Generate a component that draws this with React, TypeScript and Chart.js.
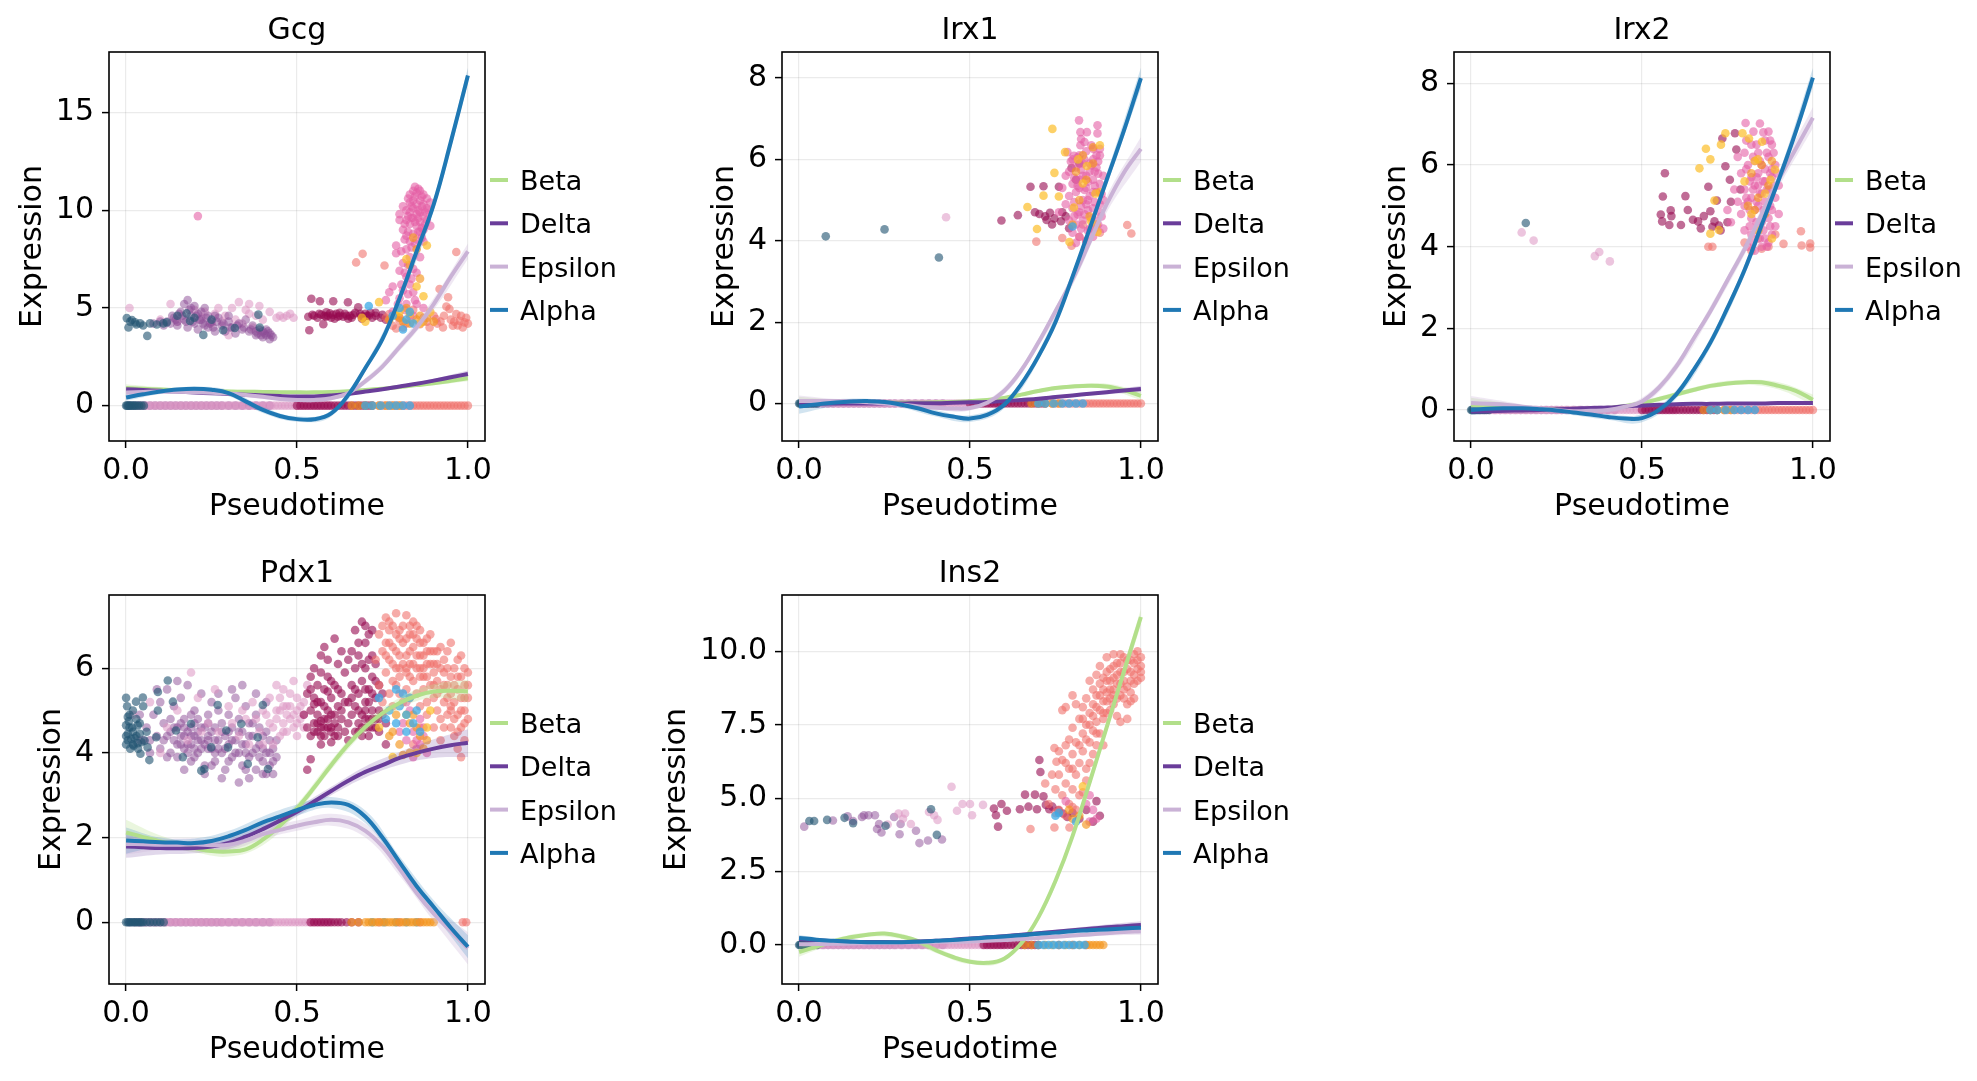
import React, { useEffect, useRef } from 'react'
import { Chart, registerables } from 'chart.js'

Chart.register(...registerables)

const FONT = '"DejaVu Sans", sans-serif'

// lineages shown as fitted trends
const lineages = ['Beta', 'Delta', 'Epsilon', 'Alpha']
const lineageColors = ['#b2df8a', '#6a3d9a', '#cab2d6', '#1f78b4']
const bandFills = ['rgba(178,223,138,0.28)', 'rgba(106,61,154,0.2)', 'rgba(202,178,214,0.3)', 'rgba(31,120,180,0.2)']

// cluster colours of the cells
const cellColors: Record<string, string> = {
  teal: 'rgba(35,85,115,0.62)',
  purple: 'rgba(140,75,150,0.5)',
  light: 'rgba(220,150,195,0.55)',
  crimson: 'rgba(150,10,80,0.6)',
  salmon: 'rgba(240,110,105,0.58)',
  pink: 'rgba(228,95,165,0.6)',
  orange: 'rgba(245,150,30,0.65)',
  yellow: 'rgba(252,190,40,0.7)',
  blue: 'rgba(60,170,230,0.75)',
}

const curveX = [0, 0.05, 0.1, 0.15, 0.2, 0.25, 0.3, 0.35, 0.4, 0.45, 0.5, 0.55, 0.6, 0.65, 0.7, 0.75, 0.8, 0.85, 0.9, 0.95, 1]
const bandX = [0, 0.1, 0.2, 0.3, 0.4, 0.5, 0.6, 0.7, 0.8, 0.9, 1]
const xTicks = [0, 0.5, 1]

// ---------- Gcg ----------
const gcgBeta = [0.9, 0.86, 0.82, 0.79, 0.76, 0.74, 0.72, 0.71, 0.7, 0.69, 0.68, 0.68, 0.7, 0.74, 0.8, 0.87, 0.95, 1.05, 1.15, 1.27, 1.4]
const gcgDelta = [0.84, 0.8, 0.76, 0.72, 0.67, 0.63, 0.6, 0.56, 0.52, 0.49, 0.47, 0.47, 0.52, 0.6, 0.72, 0.84, 0.98, 1.12, 1.28, 1.45, 1.62]
const gcgEpsilon = [0.67, 0.7, 0.72, 0.71, 0.69, 0.66, 0.62, 0.55, 0.46, 0.34, 0.29, 0.29, 0.38, 0.64, 1.25, 2.0, 3.0, 4.0, 5.2, 6.6, 7.9]
const gcgAlpha = [0.42, 0.58, 0.72, 0.82, 0.86, 0.81, 0.64, 0.22, -0.22, -0.53, -0.69, -0.7, -0.4, 0.55, 1.93, 3.4, 5.5, 7.9, 10.3, 13.5, 16.9]
const gcgLo = [
  [0.7, 0.7, 0.65, 0.62, 0.6, 0.6, 0.62, 0.72, 0.88, 1.05, 1.25],
  [0.7, 0.68, 0.6, 0.53, 0.45, 0.4, 0.45, 0.64, 0.9, 1.18, 1.45],
  [0.5, 0.6, 0.6, 0.5, 0.35, 0.2, 0.28, 1.1, 2.8, 4.9, 7.5],
  [0.25, 0.6, 0.75, 0.48, -0.38, -0.82, -0.55, 1.75, 5.3, 10.0, 16.5],
]
const gcgHi = [
  [1.1, 0.95, 0.87, 0.82, 0.8, 0.76, 0.78, 0.88, 1.02, 1.25, 1.55],
  [0.98, 0.84, 0.74, 0.67, 0.59, 0.54, 0.59, 0.8, 1.06, 1.38, 1.8],
  [0.85, 0.84, 0.78, 0.74, 0.57, 0.38, 0.48, 1.4, 3.2, 5.5, 8.3],
  [0.6, 0.84, 0.97, 0.8, -0.06, -0.56, -0.25, 2.1, 5.7, 10.6, 17.3],
]
const gcgTeal = [[0.002, 4.48], [0.007, 4.0], [0.012, 4.3], [0.017, 4.38], [0.026, 4.26], [0.03, 4.15], [0.041, 4.21], [0.05, 4.1], [0.062, 3.57], [0.07, 4.21], [0.09, 4.15], [0.109, 4.21], [0.119, 4.26], [0.15, 4.6], [0.177, 4.72], [0.187, 4.34], [0.2, 4.5], [0.226, 3.62], [0.25, 4.4], [0.284, 3.86], [0.318, 3.97], [0.387, 4.66], [0.391, 4.0]]
const gcgPurple = [[0.08, 4.2], [0.1, 4.3], [0.11, 4.1], [0.12, 4.3], [0.13, 4.2], [0.135, 4.6], [0.14, 4.5], [0.145, 4.4], [0.15, 4.1], [0.15, 4.3], [0.155, 4.7], [0.16, 4.8], [0.165, 4.6], [0.17, 5.2], [0.17, 4.4], [0.175, 4.3], [0.18, 4.0], [0.18, 5.4], [0.185, 4.9], [0.19, 4.6], [0.19, 5.0], [0.195, 4.3], [0.2, 4.2], [0.2, 5.1], [0.205, 4.6], [0.21, 4.7], [0.21, 3.9], [0.215, 4.4], [0.22, 4.4], [0.22, 4.8], [0.225, 4.2], [0.23, 5.0], [0.23, 4.1], [0.235, 4.5], [0.24, 4.6], [0.24, 4.0], [0.245, 4.2], [0.25, 4.3], [0.255, 4.0], [0.26, 3.8], [0.26, 4.6], [0.265, 4.3], [0.27, 4.5], [0.28, 4.1], [0.285, 4.2], [0.29, 3.8], [0.3, 4.3], [0.3, 4.6], [0.305, 4.0], [0.31, 4.0], [0.32, 3.7], [0.325, 4.1], [0.33, 4.2], [0.34, 3.9], [0.345, 4.0], [0.35, 4.4], [0.36, 3.8], [0.365, 3.9], [0.37, 4.1], [0.38, 3.6], [0.38, 3.8], [0.385, 3.7], [0.39, 3.9], [0.395, 3.6], [0.4, 3.5], [0.4, 3.8], [0.405, 3.7], [0.41, 3.6], [0.41, 3.9], [0.415, 3.8], [0.42, 3.4], [0.42, 3.7], [0.425, 3.6], [0.43, 3.5]]
const gcgLight = [[0.01, 5.0], [0.1, 4.4], [0.13, 5.2], [0.15, 4.3], [0.2, 4.9], [0.22, 4.5], [0.23, 4.8], [0.25, 4.2], [0.27, 5.0], [0.28, 4.3], [0.29, 4.6], [0.3, 3.6], [0.31, 5.0], [0.32, 4.4], [0.33, 5.3], [0.34, 4.2], [0.36, 5.2], [0.36, 4.7], [0.37, 4.0], [0.38, 4.6], [0.4, 4.4], [0.42, 4.8], [0.44, 4.5], [0.45, 4.6], [0.46, 4.5], [0.47, 4.6], [0.48, 4.7], [0.49, 4.5], [0.39, 5.1], [0.35, 4.9], [0.26, 4.7]]
const gcgCrimson = [[0.533, 4.55], [0.536, 3.86], [0.542, 5.47], [0.545, 4.65], [0.55, 4.6], [0.56, 4.5], [0.565, 4.7], [0.567, 5.34], [0.571, 4.66], [0.577, 4.17], [0.58, 4.6], [0.585, 4.55], [0.586, 4.78], [0.59, 4.6], [0.596, 4.72], [0.6, 4.5], [0.605, 4.65], [0.606, 5.34], [0.61, 4.45], [0.615, 4.7], [0.62, 4.55], [0.625, 4.75], [0.625, 4.6], [0.635, 4.55], [0.64, 4.7], [0.645, 4.6], [0.649, 5.29], [0.65, 4.45], [0.655, 4.6], [0.66, 4.5], [0.665, 4.65], [0.67, 4.75], [0.679, 5.03], [0.685, 4.7], [0.688, 4.6], [0.69, 4.45], [0.695, 4.55], [0.7, 4.7], [0.705, 4.6], [0.71, 4.6], [0.715, 4.75], [0.72, 4.5], [0.73, 4.6], [0.73, 4.75], [0.745, 4.5], [0.75, 4.65], [0.76, 4.4]]
const gcgSalmon = [[0.673, 7.33], [0.692, 7.77], [0.756, 7.17], [0.966, 7.86], [0.917, 5.97], [0.942, 5.55], [0.76, 4.5], [0.77, 4.69], [0.78, 4.09], [0.79, 3.95], [0.8, 4.34], [0.81, 4.0], [0.82, 4.2], [0.83, 4.6], [0.84, 4.9], [0.86, 4.17], [0.87, 4.5], [0.88, 4.3], [0.888, 4.0], [0.9, 4.6], [0.907, 4.43], [0.91, 4.2], [0.92, 4.3], [0.927, 4.0], [0.93, 4.6], [0.937, 5.07], [0.946, 4.95], [0.95, 4.4], [0.956, 4.09], [0.96, 4.3], [0.966, 4.69], [0.97, 4.1], [0.976, 4.34], [0.98, 4.6], [0.985, 4.0], [0.99, 4.26], [0.995, 4.5], [1.0, 4.2]]
const gcgPink = [[0.21, 9.7], [0.83, 10.8], [0.84, 11.0], [0.845, 11.2], [0.85, 10.9], [0.855, 11.1], [0.86, 11.0], [0.865, 10.7], [0.87, 10.8], [0.88, 10.6], [0.825, 10.6], [0.83, 10.4], [0.835, 10.2], [0.84, 10.5], [0.845, 10.7], [0.85, 10.3], [0.855, 10.0], [0.86, 10.5], [0.865, 10.2], [0.87, 10.3], [0.875, 9.9], [0.88, 10.1], [0.885, 10.0], [0.82, 10.0], [0.83, 9.9], [0.84, 10.1], [0.85, 9.8], [0.86, 9.9], [0.87, 9.7], [0.88, 9.5], [0.825, 9.7], [0.835, 9.6], [0.845, 9.4], [0.855, 9.6], [0.865, 9.1], [0.875, 9.3], [0.82, 9.5], [0.83, 9.3], [0.84, 9.6], [0.85, 9.2], [0.86, 9.4], [0.87, 9.0], [0.815, 9.3], [0.825, 8.9], [0.81, 9.0], [0.82, 8.7], [0.84, 8.8], [0.845, 8.3], [0.85, 8.5], [0.855, 8.9], [0.86, 8.9], [0.865, 8.6], [0.87, 8.4], [0.835, 8.1], [0.815, 8.5], [0.8, 9.8], [0.81, 10.2], [0.89, 9.2], [0.89, 10.4], [0.82, 8.0], [0.805, 7.9], [0.83, 7.6], [0.81, 7.3], [0.825, 7.2], [0.84, 7.0], [0.815, 6.8], [0.82, 6.6], [0.835, 6.5], [0.8, 6.9], [0.79, 7.8], [0.83, 6.2], [0.805, 6.2], [0.81, 5.9], [0.825, 5.7], [0.8, 5.5], [0.84, 5.8], [0.845, 5.4], [0.78, 6.1], [0.77, 5.8], [0.82, 5.2], [0.795, 5.2], [0.815, 4.9], [0.85, 6.8], [0.86, 7.6], [0.79, 8.2], [0.8, 9.5], [0.83, 8.4], [0.85, 5.2], [0.87, 5.0], [0.76, 5.4], [0.78, 4.8], [0.8, 4.5], [0.84, 4.6]]
const gcgOrange = [[0.84, 8.6], [0.85, 8.0], [0.83, 7.2], [0.86, 6.5], [0.82, 5.0], [0.8, 4.5], [0.81, 4.3], [0.83, 4.2], [0.85, 4.4], [0.86, 4.6], [0.87, 4.3], [0.88, 4.5], [0.79, 4.6], [0.9, 4.3], [0.77, 4.4]]
const gcgYellow = [[0.69, 4.5], [0.7, 4.3], [0.74, 5.3], [0.82, 7.5], [0.85, 6.1], [0.87, 5.6], [0.88, 8.2], [0.83, 4.7], [0.86, 4.2], [0.89, 4.8], [0.8, 4.8]]
const gcgBlue = [[0.71, 5.1], [0.81, 3.9], [0.82, 4.4], [0.83, 4.8], [0.8, 5.0], [0.78, 4.6], [0.84, 4.2]]

// zero-expression cells, shared segments
const zeroTealEarly = [0, 0.003, 0.006, 0.01, 0.014, 0.018, 0.022, 0.027, 0.032, 0.038, 0.045, 0.052]
const zeroPurpleEarly = [0.01, 0.025, 0.04, 0.055, 0.07, 0.085, 0.1, 0.115, 0.13, 0.145, 0.16, 0.175, 0.19, 0.205, 0.22, 0.235, 0.25, 0.265, 0.28, 0.3, 0.32, 0.34, 0.36, 0.38, 0.4, 0.42]
const zeroLightEarly = [0.035, 0.045, 0.055, 0.065, 0.075, 0.085, 0.095, 0.105, 0.115, 0.125, 0.135, 0.145, 0.155, 0.165, 0.175, 0.185, 0.195, 0.205, 0.215, 0.225, 0.235, 0.245, 0.255, 0.265, 0.275, 0.285, 0.295, 0.305, 0.315, 0.325, 0.335, 0.345, 0.355, 0.365, 0.375, 0.385, 0.395, 0.405, 0.415, 0.425, 0.435, 0.445, 0.455, 0.465, 0.475, 0.485, 0.495, 0.505, 0.515, 0.525, 0.535, 0.545, 0.555, 0.565, 0.575, 0.585, 0.595]
const zeroCrimsonMid = [0.5, 0.51, 0.52, 0.53, 0.54, 0.55, 0.56, 0.57, 0.58, 0.59, 0.6, 0.61, 0.62, 0.63, 0.64, 0.65, 0.66, 0.67, 0.68, 0.69, 0.7, 0.71, 0.72]
const zeroOrangeMid = [0.66, 0.68, 0.7, 0.72, 0.74, 0.76, 0.78, 0.8]
const zeroBlueMid = [0.7, 0.72, 0.745, 0.77, 0.79, 0.81, 0.83]
const zeroSalmonLate = [0.74, 0.75, 0.76, 0.77, 0.78, 0.79, 0.8, 0.81, 0.82, 0.83, 0.84, 0.85, 0.86, 0.87, 0.88, 0.89, 0.9, 0.91, 0.92, 0.93, 0.94, 0.95, 0.96, 0.97, 0.98, 0.99, 1.0]

// ---------- Irx1 ----------
const irx1Beta = [0.06, 0.05, 0.04, 0.03, 0.02, 0.02, 0.02, 0.02, 0.03, 0.04, 0.06, 0.09, 0.14, 0.22, 0.31, 0.38, 0.42, 0.44, 0.42, 0.33, 0.19]
const irx1Delta = [0, 0, 0, 0, 0, 0, 0, 0.01, 0.01, 0.02, 0.03, 0.04, 0.06, 0.09, 0.12, 0.16, 0.2, 0.24, 0.28, 0.32, 0.36]
const irx1Epsilon = [0.06, 0.06, 0.06, 0.05, 0.03, 0.0, -0.03, -0.07, -0.1, -0.12, -0.11, 0.02, 0.31, 0.82, 1.5, 2.27, 3.05, 3.97, 4.9, 5.67, 6.26]
const irx1Alpha = [-0.07, -0.02, 0.02, 0.05, 0.06, 0.04, -0.03, -0.12, -0.24, -0.32, -0.37, -0.28, -0.03, 0.48, 1.16, 2.0, 3.12, 4.3, 5.5, 6.7, 8.0]
const irx1Lo = [
  [-0.05, -0.02, -0.01, -0.02, -0.01, 0.01, 0.1, 0.26, 0.37, 0.35, 0.08],
  [-0.05, -0.02, -0.02, -0.01, -0.01, 0.0, 0.03, 0.09, 0.16, 0.23, 0.28],
  [-0.1, 0.0, 0.0, -0.08, -0.15, -0.17, 0.22, 1.4, 2.9, 4.7, 5.95],
  [-0.25, -0.07, 0.0, -0.1, -0.32, -0.45, -0.12, 1.05, 3.0, 5.35, 7.75],
]
const irx1Hi = [
  [0.17, 0.1, 0.06, 0.06, 0.07, 0.11, 0.18, 0.36, 0.47, 0.49, 0.3],
  [0.05, 0.02, 0.02, 0.03, 0.03, 0.06, 0.09, 0.15, 0.24, 0.33, 0.44],
  [0.2, 0.12, 0.08, 0.02, -0.05, -0.05, 0.4, 1.6, 3.2, 5.1, 6.55],
  [0.1, 0.11, 0.12, 0.04, -0.16, -0.29, 0.06, 1.27, 3.24, 5.65, 8.25],
]
const irx1Teal = [[0.078, 4.11], [0.25, 4.28], [0.409, 3.59]]
const irx1Light = [[0.43, 4.58]]
const irx1Crimson = [[0.592, 4.5], [0.64, 4.63], [0.677, 5.33], [0.69, 4.7], [0.703, 4.66], [0.715, 5.34], [0.72, 4.6], [0.724, 4.51], [0.734, 4.69], [0.74, 4.4], [0.747, 4.55], [0.76, 5.33], [0.766, 4.48], [0.77, 4.7], [0.78, 4.6], [0.79, 4.31], [0.797, 5.79], [0.81, 5.5], [0.82, 5.9]]
const irx1Salmon = [[0.694, 3.98], [0.77, 4.07], [0.797, 3.88], [0.82, 4.1], [0.83, 4.4], [0.84, 4.0], [0.86, 4.3], [0.88, 4.2], [0.96, 4.39], [0.972, 4.18]]
const irx1Pink = [[0.819, 6.96], [0.823, 6.67], [0.842, 6.67], [0.873, 6.84], [0.873, 6.64], [0.835, 6.43], [0.823, 6.35], [0.825, 6.5], [0.861, 6.26], [0.855, 6.35], [0.88, 6.26], [0.785, 6.18], [0.804, 6.09], [0.8, 6.0], [0.795, 5.95], [0.815, 6.05], [0.82, 6.1], [0.835, 6.0], [0.84, 6.2], [0.86, 6.0], [0.875, 5.95], [0.88, 6.1], [0.79, 5.7], [0.81, 5.8], [0.825, 5.75], [0.83, 5.9], [0.85, 5.7], [0.855, 5.85], [0.865, 5.7], [0.87, 5.8], [0.89, 5.6], [0.8, 5.4], [0.805, 5.55], [0.815, 5.35], [0.82, 5.5], [0.835, 5.25], [0.84, 5.3], [0.845, 5.45], [0.86, 5.5], [0.865, 5.35], [0.875, 5.65], [0.88, 5.4], [0.885, 5.15], [0.79, 5.1], [0.81, 5.2], [0.83, 5.0], [0.845, 5.0], [0.85, 5.1], [0.87, 5.2], [0.89, 5.0], [0.8, 4.8], [0.805, 4.95], [0.82, 4.7], [0.825, 4.85], [0.84, 4.9], [0.845, 4.75], [0.86, 4.8], [0.865, 4.95], [0.88, 4.7], [0.885, 4.6], [0.79, 4.5], [0.805, 4.6], [0.81, 4.4], [0.815, 4.65], [0.83, 4.5], [0.835, 4.65], [0.85, 4.3], [0.855, 4.55], [0.87, 4.5], [0.875, 4.4], [0.89, 4.3], [0.82, 4.1], [0.825, 4.3], [0.84, 4.0], [0.845, 4.25], [0.86, 4.1], [0.865, 4.3], [0.81, 3.95], [0.83, 5.6], [0.85, 5.9], [0.87, 6.1], [0.84, 5.6], [0.86, 5.2], [0.88, 4.9], [0.82, 5.3], [0.78, 4.9], [0.77, 5.3], [0.76, 4.7], [0.8, 4.2], [0.78, 5.6]]
const irx1Orange = [[0.82, 5.0], [0.84, 5.5], [0.85, 4.6], [0.86, 5.9], [0.87, 4.4], [0.83, 6.1], [0.88, 5.2], [0.8, 4.4], [0.81, 5.7], [0.86, 6.3]]
const irx1Yellow = [[0.741, 6.75], [0.668, 4.83], [0.696, 4.29], [0.715, 5.11], [0.747, 5.67], [0.76, 5.09], [0.778, 6.18], [0.791, 3.97], [0.804, 4.82], [0.816, 6.0], [0.83, 5.41], [0.842, 5.84], [0.854, 4.48], [0.867, 5.16], [0.873, 4.22], [0.88, 6.35]]
const irx1Blue = [[0.8, 4.35]]
const irx1ZeroOrange = [0.68, 0.7, 0.72, 0.74, 0.76]

// ---------- Irx2 ----------
const irx2Beta = [0.13, 0.09, 0.06, 0.04, 0.02, 0.02, 0.02, 0.03, 0.04, 0.09, 0.17, 0.27, 0.38, 0.49, 0.59, 0.65, 0.68, 0.68, 0.59, 0.47, 0.25]
const irx2Delta = [-0.04, -0.03, -0.02, -0.01, 0.0, 0.02, 0.03, 0.05, 0.06, 0.09, 0.11, 0.13, 0.14, 0.15, 0.15, 0.16, 0.16, 0.16, 0.17, 0.17, 0.17]
const irx2Epsilon = [0.17, 0.15, 0.13, 0.08, 0.04, 0.0, -0.03, -0.02, 0.0, 0.08, 0.21, 0.55, 1.06, 1.74, 2.42, 3.18, 3.94, 4.79, 5.64, 6.4, 7.16]
const irx2Alpha = [0.0, 0.03, 0.04, 0.04, 0.02, -0.01, -0.06, -0.11, -0.17, -0.21, -0.2, 0.0, 0.38, 0.97, 1.65, 2.5, 3.43, 4.53, 5.64, 6.82, 8.14]
const irx2Lo = [
  [-0.05, 0.0, -0.02, -0.02, -0.01, 0.11, 0.32, 0.53, 0.62, 0.5, 0.12],
  [-0.1, -0.06, -0.04, -0.01, 0.03, 0.08, 0.11, 0.12, 0.13, 0.13, 0.12],
  [0.0, 0.05, 0.0, -0.1, -0.07, 0.12, 0.95, 2.3, 3.8, 5.45, 6.9],
  [-0.12, -0.03, -0.04, -0.13, -0.24, -0.3, 0.28, 1.53, 3.3, 5.5, 7.9],
]
const irx2Hi = [
  [0.3, 0.18, 0.08, 0.08, 0.1, 0.23, 0.44, 0.65, 0.74, 0.68, 0.38],
  [0.02, 0.04, 0.04, 0.07, 0.09, 0.14, 0.17, 0.18, 0.19, 0.21, 0.22],
  [0.34, 0.21, 0.08, 0.04, 0.07, 0.3, 1.17, 2.54, 4.08, 5.83, 7.42],
  [0.12, 0.11, 0.08, 0.01, -0.1, -0.1, 0.48, 1.77, 3.56, 5.78, 8.38],
]
const irx2Teal = [[0.16, 4.58]]
const irx2Light = [[0.148, 4.35], [0.183, 4.15], [0.362, 3.77], [0.375, 3.87], [0.406, 3.64]]
const irx2Crimson = [[0.567, 5.8], [0.561, 5.23], [0.555, 4.79], [0.559, 4.62], [0.584, 4.89], [0.586, 4.75], [0.58, 4.53], [0.614, 4.53], [0.627, 5.24], [0.634, 4.9], [0.649, 4.66], [0.664, 4.62], [0.672, 4.45], [0.681, 4.75], [0.694, 5.47], [0.7, 4.87], [0.706, 4.49], [0.712, 4.62], [0.719, 5.13], [0.725, 4.52], [0.73, 4.4], [0.735, 6.65], [0.744, 5.97], [0.75, 4.6], [0.757, 5.64], [0.76, 5.1], [0.772, 6.78], [0.776, 6.38], [0.788, 5.4]]
const irx2Salmon = [[0.694, 4.0], [0.706, 4.0], [0.8, 4.1], [0.82, 3.9], [0.84, 4.2], [0.85, 3.95], [0.87, 4.0], [0.89, 4.3], [0.914, 4.07], [0.965, 4.38], [0.967, 4.03], [0.992, 4.08], [0.992, 3.98]]
const irx2Pink = [[0.803, 7.03], [0.845, 7.02], [0.826, 6.82], [0.87, 6.82], [0.855, 6.8], [0.86, 6.6], [0.875, 6.6], [0.88, 6.5], [0.805, 6.6], [0.82, 6.5], [0.835, 6.5], [0.84, 6.3], [0.865, 6.3], [0.885, 6.3], [0.8, 6.3], [0.78, 6.2], [0.825, 6.2], [0.81, 6.0], [0.83, 6.1], [0.845, 6.1], [0.85, 6.0], [0.87, 6.2], [0.89, 6.0], [0.805, 5.9], [0.79, 5.8], [0.82, 5.7], [0.84, 5.8], [0.875, 5.8], [0.895, 5.8], [0.815, 5.6], [0.835, 5.7], [0.855, 5.6], [0.86, 5.6], [0.88, 5.7], [0.8, 5.4], [0.825, 5.4], [0.83, 5.5], [0.845, 5.3], [0.85, 5.3], [0.865, 5.4], [0.87, 5.4], [0.885, 5.5], [0.89, 5.2], [0.805, 5.2], [0.78, 5.1], [0.81, 5.1], [0.835, 5.1], [0.84, 5.0], [0.86, 5.1], [0.875, 5.0], [0.88, 4.9], [0.815, 4.9], [0.855, 4.9], [0.79, 4.8], [0.82, 4.7], [0.83, 4.9], [0.85, 4.6], [0.87, 4.7], [0.89, 4.5], [0.815, 4.5], [0.835, 4.6], [0.855, 4.4], [0.875, 4.5], [0.8, 4.4], [0.82, 4.3], [0.84, 4.4], [0.86, 4.2], [0.88, 4.3], [0.825, 4.1], [0.845, 4.2], [0.865, 4.0], [0.81, 4.0], [0.83, 3.9], [0.85, 4.0], [0.87, 4.1], [0.76, 4.6], [0.77, 5.4], [0.75, 4.9], [0.84, 5.5], [0.86, 5.9], [0.82, 5.2], [0.88, 5.9], [0.8, 5.0], [0.9, 5.5], [0.9, 4.8]]
const irx2Orange = [[0.82, 5.8], [0.84, 5.2], [0.86, 4.8], [0.85, 6.0], [0.87, 5.5], [0.83, 4.9], [0.88, 6.1], [0.81, 5.0]]
const irx2Yellow = [[0.668, 5.92], [0.687, 6.4], [0.7, 6.14], [0.731, 6.5], [0.744, 6.78], [0.7, 4.32], [0.712, 5.13], [0.725, 4.41], [0.794, 6.78], [0.813, 6.65], [0.851, 6.57], [0.839, 6.14], [0.876, 5.64], [0.889, 5.89], [0.82, 4.8], [0.86, 5.3], [0.8, 5.6], [0.84, 4.4], [0.88, 4.2], [0.83, 6.1]]

// ---------- Pdx1 ----------
const pdx1Beta = [2.12, 2.01, 1.91, 1.83, 1.75, 1.68, 1.67, 1.72, 1.95, 2.28, 2.69, 3.18, 3.71, 4.2, 4.61, 4.94, 5.18, 5.35, 5.45, 5.47, 5.45]
const pdx1Delta = [1.79, 1.77, 1.75, 1.75, 1.75, 1.79, 1.87, 2.02, 2.2, 2.4, 2.61, 2.85, 3.1, 3.34, 3.55, 3.71, 3.88, 4.0, 4.1, 4.18, 4.24]
const pdx1Epsilon = [1.85, 1.84, 1.83, 1.83, 1.84, 1.82, 1.83, 1.93, 2.08, 2.18, 2.28, 2.36, 2.42, 2.36, 2.16, 1.79, 1.26, 0.69, 0.2, -0.21, -0.62]
const pdx1Alpha = [1.93, 1.91, 1.89, 1.88, 1.87, 1.92, 2.03, 2.18, 2.36, 2.5, 2.65, 2.77, 2.83, 2.77, 2.49, 2.0, 1.42, 0.85, 0.36, -0.13, -0.58]
const pdx1Lo = [
  [1.85, 1.8, 1.65, 1.55, 1.82, 2.58, 3.6, 4.5, 5.05, 5.3, 5.2],
  [1.52, 1.6, 1.63, 1.73, 2.08, 2.5, 3.0, 3.42, 3.72, 3.88, 3.9],
  [1.6, 1.7, 1.7, 1.7, 1.96, 2.16, 2.28, 2.0, 1.1, 0.02, -1.0],
  [1.62, 1.78, 1.76, 1.9, 2.22, 2.52, 2.7, 2.34, 1.28, 0.2, -0.85],
]
const pdx1Hi = [
  [2.42, 2.05, 1.86, 1.8, 2.08, 2.8, 3.82, 4.72, 5.3, 5.62, 5.72],
  [2.06, 1.92, 1.87, 2.01, 2.32, 2.72, 3.2, 3.68, 4.02, 4.32, 4.56],
  [2.1, 1.98, 1.98, 1.96, 2.2, 2.4, 2.56, 2.32, 1.42, 0.38, -0.24],
  [2.24, 2.0, 1.98, 2.16, 2.5, 2.78, 2.96, 2.64, 1.56, 0.52, -0.31],
]
const pdx1Teal = [[0.0, 5.3], [0.003, 5.1], [0.005, 4.85], [0.0, 4.65], [0.0, 4.4], [0.005, 4.3], [0.008, 4.75], [0.01, 4.6], [0.01, 4.9], [0.012, 4.1], [0.005, 4.45], [0.0, 4.2], [0.02, 5.0], [0.02, 4.2], [0.02, 4.5], [0.015, 4.33], [0.018, 4.6], [0.022, 4.17], [0.025, 4.35], [0.03, 4.4], [0.03, 4.8], [0.034, 4.23], [0.034, 4.65], [0.035, 4.1], [0.04, 4.7], [0.04, 4.45], [0.045, 4.25], [0.029, 5.21], [0.042, 3.98], [0.049, 5.31], [0.05, 5.1], [0.054, 4.29], [0.06, 4.5], [0.063, 4.13], [0.068, 3.83], [0.088, 4.37], [0.093, 5.44], [0.093, 5.0], [0.122, 5.71], [0.137, 5.21], [0.146, 4.53], [0.166, 3.9], [0.19, 4.69], [0.22, 3.58], [0.229, 3.62], [0.249, 4.13], [0.268, 5.13], [0.293, 4.53], [0.298, 4.13], [0.337, 4.69], [0.356, 3.74], [0.385, 4.37], [0.4, 5.13], [0.415, 3.62]]
const pdx1Purple = [[0.04, 4.9], [0.05, 4.3], [0.06, 4.6], [0.07, 4.3], [0.07, 4.0], [0.08, 4.9], [0.09, 4.4], [0.09, 5.5], [0.1, 5.2], [0.1, 4.1], [0.11, 4.7], [0.11, 4.3], [0.12, 4.4], [0.12, 5.5], [0.12, 3.9], [0.13, 4.0], [0.13, 4.8], [0.13, 4.5], [0.14, 4.3], [0.14, 5.1], [0.14, 4.6], [0.15, 4.6], [0.15, 3.9], [0.15, 5.7], [0.15, 4.2], [0.16, 4.4], [0.16, 5.3], [0.16, 4.2], [0.16, 4.7], [0.17, 4.1], [0.17, 4.8], [0.17, 3.6], [0.17, 4.4], [0.17, 4.6], [0.18, 4.5], [0.18, 5.6], [0.18, 4.0], [0.18, 4.2], [0.19, 4.2], [0.19, 3.8], [0.19, 4.6], [0.19, 4.9], [0.19, 4.4], [0.2, 4.7], [0.2, 5.0], [0.2, 4.4], [0.2, 4.1], [0.2, 3.9], [0.21, 4.3], [0.21, 4.0], [0.21, 4.8], [0.21, 4.5], [0.22, 4.6], [0.22, 5.4], [0.22, 4.1], [0.22, 4.3], [0.23, 4.2], [0.23, 3.7], [0.23, 3.5], [0.23, 4.6], [0.24, 4.9], [0.24, 4.4], [0.24, 4.3], [0.24, 4.1], [0.24, 4.7], [0.25, 4.1], [0.25, 5.2], [0.25, 4.5], [0.25, 3.7], [0.26, 4.6], [0.26, 3.8], [0.26, 4.0], [0.26, 4.3], [0.27, 4.3], [0.27, 5.0], [0.27, 5.4], [0.27, 4.1], [0.28, 4.0], [0.28, 4.7], [0.28, 3.4], [0.28, 4.5], [0.29, 4.4], [0.29, 3.6], [0.29, 4.1], [0.3, 4.9], [0.3, 4.2], [0.3, 4.5], [0.3, 3.8], [0.31, 4.6], [0.31, 3.9], [0.31, 5.5], [0.31, 4.3], [0.32, 4.3], [0.32, 5.3], [0.32, 4.0], [0.33, 4.0], [0.33, 4.8], [0.33, 3.3], [0.33, 4.5], [0.34, 4.5], [0.34, 3.7], [0.34, 5.6], [0.34, 4.2], [0.35, 4.2], [0.35, 5.1], [0.35, 4.0], [0.35, 3.6], [0.36, 4.7], [0.36, 3.9], [0.36, 3.4], [0.36, 4.4], [0.37, 4.4], [0.37, 4.0], [0.37, 4.7], [0.38, 4.9], [0.38, 3.6], [0.38, 5.4], [0.38, 4.1], [0.39, 4.2], [0.39, 4.6], [0.39, 3.9], [0.4, 3.8], [0.4, 4.4], [0.4, 4.1], [0.4, 3.5], [0.41, 4.0], [0.41, 3.5], [0.41, 5.2], [0.41, 4.5], [0.42, 4.3], [0.42, 3.7], [0.42, 4.0], [0.43, 4.1], [0.43, 3.5], [0.43, 3.8], [0.44, 3.9], [0.44, 4.3]]
const pdx1Light = [[0.02, 4.9], [0.04, 4.3], [0.07, 5.2], [0.1, 4.0], [0.12, 4.6], [0.15, 5.0], [0.18, 4.3], [0.19, 5.9], [0.21, 5.3], [0.22, 4.5], [0.24, 4.7], [0.26, 5.5], [0.27, 4.5], [0.3, 5.1], [0.31, 4.7], [0.33, 4.4], [0.34, 5.0], [0.35, 4.8], [0.36, 4.2], [0.37, 5.2], [0.38, 4.8], [0.39, 4.5], [0.4, 4.2], [0.4, 5.0], [0.41, 4.9], [0.42, 5.3], [0.42, 4.7], [0.43, 4.6], [0.43, 4.2], [0.44, 5.0], [0.44, 5.6], [0.44, 4.8], [0.45, 4.4], [0.45, 5.3], [0.45, 5.0], [0.46, 4.7], [0.46, 5.5], [0.46, 4.5], [0.46, 5.1], [0.47, 5.1], [0.47, 4.5], [0.47, 4.9], [0.48, 4.8], [0.48, 5.4], [0.48, 5.1], [0.49, 4.6], [0.49, 5.7], [0.49, 4.9], [0.5, 5.0], [0.5, 4.4], [0.5, 4.7], [0.5, 5.3], [0.51, 4.8], [0.51, 5.1], [0.52, 5.2], [0.52, 4.6], [0.52, 4.9], [0.53, 5.6]]
const pdx1Crimson = [[0.52, 4.9], [0.53, 5.4], [0.53, 4.6], [0.53, 3.6], [0.54, 5.0], [0.54, 5.8], [0.54, 4.4], [0.54, 3.85], [0.54, 5.5], [0.55, 4.7], [0.55, 5.3], [0.55, 6.0], [0.55, 5.15], [0.55, 4.5], [0.56, 4.5], [0.56, 4.9], [0.56, 5.6], [0.56, 4.7], [0.56, 5.2], [0.57, 4.6], [0.57, 5.2], [0.57, 6.3], [0.57, 4.2], [0.57, 4.75], [0.57, 4.4], [0.57, 5.9], [0.58, 4.4], [0.58, 4.8], [0.58, 5.5], [0.58, 6.5], [0.58, 4.6], [0.58, 5.1], [0.59, 4.6], [0.59, 5.0], [0.59, 5.8], [0.59, 5.45], [0.59, 4.8], [0.59, 6.2], [0.6, 4.5], [0.6, 4.9], [0.6, 5.3], [0.6, 4.25], [0.6, 4.6], [0.6, 5.7], [0.61, 4.7], [0.61, 5.6], [0.61, 6.7], [0.61, 4.4], [0.61, 4.9], [0.62, 4.6], [0.62, 5.1], [0.62, 6.1], [0.62, 4.4], [0.62, 5.5], [0.63, 4.8], [0.63, 5.4], [0.63, 5.0], [0.63, 6.4], [0.64, 4.5], [0.64, 5.9], [0.64, 5.2], [0.65, 4.7], [0.65, 5.2], [0.65, 4.3], [0.65, 6.2], [0.66, 4.9], [0.66, 6.4], [0.66, 5.6], [0.66, 5.3], [0.67, 4.5], [0.67, 5.1], [0.67, 6.0], [0.67, 6.9], [0.67, 5.5], [0.68, 4.7], [0.68, 5.4], [0.68, 6.3], [0.68, 5.0], [0.68, 6.6], [0.68, 4.5], [0.69, 4.9], [0.69, 5.7], [0.69, 4.4], [0.69, 7.1], [0.69, 4.6], [0.69, 6.1], [0.7, 5.2], [0.7, 6.0], [0.7, 4.6], [0.7, 6.6], [0.7, 5.0], [0.7, 4.8], [0.7, 5.5], [0.7, 7.0], [0.71, 4.8], [0.71, 5.5], [0.71, 6.8], [0.71, 4.4], [0.71, 5.2], [0.71, 6.2], [0.71, 4.6], [0.72, 5.0], [0.72, 5.8], [0.72, 6.3], [0.72, 4.6], [0.72, 5.4], [0.72, 4.8], [0.72, 6.9], [0.73, 5.3], [0.73, 4.8], [0.73, 6.1], [0.73, 5.7], [0.73, 4.6], [0.74, 5.0], [0.74, 5.6], [0.74, 4.5], [0.74, 4.8], [0.75, 4.9], [0.75, 5.4], [0.76, 4.7], [0.76, 4.2]]
const pdx1Salmon = [[0.73, 6.2], [0.74, 5.6], [0.74, 6.8], [0.75, 5.2], [0.75, 6.4], [0.75, 7.0], [0.76, 5.9], [0.76, 6.6], [0.76, 7.2], [0.76, 6.3], [0.77, 5.4], [0.77, 6.2], [0.77, 7.1], [0.77, 6.6], [0.77, 6.9], [0.78, 5.7], [0.78, 6.5], [0.78, 5.1], [0.78, 7.0], [0.78, 6.1], [0.79, 6.0], [0.79, 6.8], [0.79, 7.3], [0.79, 6.4], [0.79, 5.6], [0.8, 5.4], [0.8, 6.3], [0.8, 5.8], [0.8, 6.9], [0.8, 6.7], [0.8, 6.0], [0.81, 6.6], [0.81, 5.2], [0.81, 7.0], [0.81, 6.1], [0.82, 5.9], [0.82, 6.3], [0.82, 5.5], [0.82, 7.25], [0.82, 6.7], [0.82, 6.0], [0.83, 6.1], [0.83, 6.8], [0.83, 5.3], [0.83, 6.4], [0.83, 5.8], [0.83, 7.0], [0.84, 5.7], [0.84, 6.5], [0.84, 7.1], [0.84, 4.2], [0.84, 6.1], [0.84, 6.8], [0.85, 6.0], [0.85, 5.4], [0.85, 6.7], [0.85, 7.0], [0.85, 6.3], [0.86, 5.8], [0.86, 6.3], [0.86, 5.1], [0.86, 6.9], [0.86, 4.6], [0.86, 6.6], [0.86, 6.0], [0.87, 6.0], [0.87, 6.6], [0.87, 5.5], [0.87, 6.3], [0.87, 5.8], [0.88, 5.8], [0.88, 6.4], [0.88, 5.2], [0.88, 4.9], [0.88, 6.1], [0.88, 6.7], [0.89, 6.1], [0.89, 5.6], [0.89, 6.8], [0.89, 6.4], [0.9, 5.9], [0.9, 5.3], [0.9, 6.4], [0.9, 4.6], [0.9, 6.1], [0.9, 5.6], [0.91, 5.7], [0.91, 6.1], [0.91, 5.0], [0.91, 6.4], [0.91, 5.4], [0.92, 5.5], [0.92, 6.5], [0.92, 4.8], [0.92, 4.3], [0.92, 6.0], [0.93, 5.9], [0.93, 5.2], [0.93, 6.2], [0.93, 5.6], [0.93, 4.6], [0.94, 5.6], [0.94, 4.9], [0.94, 6.0], [0.94, 6.4], [0.94, 5.3], [0.95, 5.4], [0.95, 5.8], [0.95, 4.6], [0.95, 6.6], [0.95, 5.1], [0.95, 5.0], [0.96, 5.2], [0.96, 6.0], [0.96, 5.6], [0.96, 4.4], [0.96, 4.8], [0.97, 4.9], [0.97, 5.5], [0.97, 6.2], [0.97, 4.1], [0.97, 5.8], [0.97, 4.5], [0.98, 5.3], [0.98, 5.8], [0.98, 4.6], [0.98, 6.3], [0.98, 3.9], [0.98, 5.0], [0.99, 5.0], [0.99, 5.6], [0.99, 6.0], [0.99, 4.3], [0.99, 5.3], [0.99, 4.7], [1.0, 5.3], [1.0, 4.8], [1.0, 5.9], [1.0, 5.6]]
const pdx1Pink = [[0.8, 4.5], [0.81, 4.7], [0.82, 4.3], [0.82, 5.2], [0.83, 5.0], [0.84, 4.5], [0.84, 3.9], [0.85, 4.1], [0.85, 4.3], [0.86, 4.8], [0.86, 4.2], [0.87, 4.4], [0.87, 4.6], [0.88, 4.0]]
const pdx1Orange = [[0.77, 4.4], [0.78, 4.5], [0.79, 4.9], [0.8, 4.2], [0.81, 3.95], [0.83, 4.7], [0.83, 4.0], [0.84, 4.9], [0.85, 4.6], [0.86, 4.4], [0.87, 4.1], [0.88, 4.3]]
const pdx1Yellow = [[0.74, 4.6], [0.78, 3.9], [0.82, 4.9], [0.85, 4.0], [0.88, 4.6], [0.89, 5.0]]
const pdx1Blue = [[0.74, 5.3], [0.76, 4.8], [0.77, 5.0], [0.79, 4.7], [0.79, 5.5], [0.8, 5.1], [0.81, 5.4], [0.82, 4.5], [0.82, 4.9], [0.83, 5.3], [0.84, 4.7], [0.85, 5.0], [0.86, 4.5]]
const pdx1ZeroTeal = [0, 0.005, 0.01, 0.015, 0.02, 0.025, 0.03, 0.035, 0.04, 0.045, 0.05, 0.06, 0.07, 0.08, 0.09, 0.1, 0.11]
const pdx1ZeroCrimson = [0.54, 0.55, 0.56, 0.57, 0.58, 0.59, 0.6, 0.61, 0.62, 0.63, 0.645, 0.66, 0.68]
const pdx1ZeroOrange = [0.66, 0.68, 0.7, 0.71, 0.72, 0.73, 0.74, 0.75, 0.76, 0.77, 0.78, 0.79, 0.8, 0.81, 0.82, 0.83, 0.84, 0.85, 0.86, 0.87, 0.88, 0.89, 0.9]
const pdx1ZeroBlue = [0.72, 0.755, 0.79, 0.82, 0.85]
const pdx1ZeroPink = [0.74, 0.8, 0.86]
const pdx1ZeroSalmon = [0.985, 0.995]

// ---------- Ins2 ----------
const ins2Beta = [-0.24, -0.06, 0.12, 0.26, 0.35, 0.39, 0.29, 0.12, -0.18, -0.41, -0.57, -0.61, -0.47, 0.06, 0.94, 2.18, 3.71, 5.54, 7.42, 9.3, 11.17]
const ins2Delta = [0.2, 0.16, 0.13, 0.11, 0.1, 0.1, 0.1, 0.12, 0.14, 0.18, 0.22, 0.26, 0.3, 0.35, 0.4, 0.45, 0.5, 0.55, 0.6, 0.64, 0.68]
const ins2Epsilon = [0.02, 0.03, 0.04, 0.05, 0.06, 0.07, 0.08, 0.09, 0.1, 0.11, 0.12, 0.14, 0.17, 0.2, 0.24, 0.28, 0.32, 0.36, 0.4, 0.44, 0.47]
const ins2Alpha = [0.24, 0.18, 0.14, 0.11, 0.09, 0.09, 0.09, 0.11, 0.14, 0.17, 0.21, 0.25, 0.29, 0.33, 0.38, 0.42, 0.47, 0.5, 0.53, 0.56, 0.59]
const ins2Lo = [
  [-0.4, 0.03, 0.28, 0.2, -0.27, -0.65, -0.55, 0.84, 3.58, 7.25, 10.9],
  [0.1, 0.08, 0.06, 0.07, 0.1, 0.17, 0.24, 0.33, 0.42, 0.5, 0.55],
  [-0.05, 0.0, 0.03, 0.05, 0.07, 0.09, 0.12, 0.18, 0.25, 0.32, 0.35],
  [0.14, 0.09, 0.05, 0.05, 0.09, 0.15, 0.22, 0.31, 0.4, 0.46, 0.49],
]
const ins2Hi = [
  [-0.08, 0.21, 0.42, 0.38, -0.09, -0.49, -0.39, 1.04, 3.84, 7.59, 11.44],
  [0.3, 0.18, 0.14, 0.13, 0.18, 0.27, 0.36, 0.47, 0.58, 0.7, 0.81],
  [0.09, 0.08, 0.09, 0.11, 0.13, 0.15, 0.22, 0.3, 0.39, 0.48, 0.59],
  [0.34, 0.19, 0.13, 0.13, 0.19, 0.27, 0.36, 0.45, 0.54, 0.6, 0.69],
]
const ins2Teal = [[0.03, 4.22], [0.044, 4.22], [0.082, 4.26], [0.133, 4.33], [0.158, 4.15], [0.253, 4.06], [0.386, 4.62], [0.403, 3.75]]
const ins2Purple = [[0.015, 4.03], [0.099, 4.24], [0.142, 4.38], [0.158, 4.22], [0.184, 4.36], [0.19, 4.42], [0.203, 4.42], [0.222, 4.42], [0.234, 4.12], [0.241, 3.83], [0.228, 3.95], [0.297, 4.12], [0.294, 3.77], [0.278, 4.36], [0.342, 3.89], [0.352, 3.47], [0.377, 3.56], [0.418, 3.59]]
const ins2Light = [[0.259, 4.1], [0.291, 4.48], [0.31, 4.48], [0.304, 4.3], [0.327, 4.12], [0.38, 4.53], [0.395, 4.42], [0.405, 4.26], [0.446, 5.39], [0.462, 4.57], [0.478, 4.8], [0.5, 4.8], [0.506, 4.42], [0.538, 4.77]]
const ins2Crimson = [[0.57, 4.65], [0.576, 4.42], [0.582, 4.03], [0.592, 4.8], [0.608, 4.57], [0.646, 4.62], [0.661, 5.12], [0.671, 4.71], [0.69, 5.12], [0.696, 4.62], [0.703, 6.3], [0.706, 5.89], [0.715, 5.06], [0.722, 4.77], [0.732, 4.62], [0.741, 4.71], [0.759, 4.59], [0.772, 4.48], [0.785, 4.36], [0.8, 4.5], [0.82, 4.3], [0.84, 4.6], [0.86, 4.2], [0.88, 4.4], [0.87, 4.9]]
const ins2Salmon = [[0.677, 3.95], [0.747, 4.0], [0.791, 4.0], [0.747, 6.71], [0.753, 6.24], [0.72, 5.5], [0.73, 4.8], [0.74, 5.8], [0.75, 5.3], [0.75, 4.5], [0.76, 5.8], [0.76, 4.6], [0.76, 6.6], [0.77, 6.3], [0.77, 5.1], [0.77, 8.0], [0.78, 6.8], [0.78, 5.5], [0.78, 4.4], [0.78, 8.1], [0.78, 6.2], [0.79, 6.0], [0.79, 7.0], [0.79, 4.8], [0.8, 6.5], [0.8, 5.3], [0.8, 7.4], [0.8, 8.5], [0.8, 4.7], [0.8, 6.0], [0.81, 5.8], [0.81, 6.9], [0.81, 4.6], [0.81, 8.2], [0.82, 7.7], [0.82, 6.2], [0.82, 5.1], [0.82, 6.8], [0.83, 7.2], [0.83, 6.6], [0.83, 8.1], [0.83, 5.2], [0.83, 7.7], [0.84, 5.6], [0.84, 7.5], [0.84, 8.4], [0.84, 6.0], [0.84, 7.0], [0.85, 6.9], [0.85, 7.9], [0.85, 6.2], [0.85, 9.0], [0.85, 7.5], [0.86, 8.2], [0.86, 7.3], [0.86, 8.7], [0.86, 6.5], [0.86, 7.8], [0.87, 7.6], [0.87, 8.5], [0.87, 6.8], [0.87, 9.2], [0.87, 8.1], [0.87, 7.2], [0.88, 8.0], [0.88, 8.9], [0.88, 7.2], [0.88, 9.5], [0.88, 8.5], [0.89, 8.3], [0.89, 9.1], [0.89, 7.7], [0.89, 6.8], [0.89, 8.7], [0.89, 7.9], [0.9, 8.6], [0.9, 9.3], [0.9, 7.9], [0.9, 9.8], [0.9, 9.0], [0.9, 8.3], [0.91, 8.4], [0.91, 9.0], [0.91, 8.0], [0.91, 9.4], [0.91, 8.7], [0.92, 8.7], [0.92, 9.5], [0.92, 8.2], [0.92, 9.9], [0.92, 9.1], [0.92, 8.5], [0.93, 8.9], [0.93, 9.2], [0.93, 7.8], [0.93, 9.6], [0.93, 8.4], [0.94, 8.5], [0.94, 9.6], [0.94, 8.9], [0.94, 7.6], [0.94, 9.3], [0.94, 9.9], [0.95, 8.4], [0.95, 9.3], [0.95, 9.8], [0.95, 9.0], [0.95, 8.7], [0.96, 8.8], [0.96, 9.4], [0.96, 8.2], [0.96, 7.7], [0.96, 9.7], [0.97, 9.0], [0.97, 9.7], [0.97, 8.6], [0.97, 9.3], [0.97, 8.3], [0.98, 9.2], [0.98, 9.9], [0.98, 8.9], [0.98, 8.4], [0.98, 9.6], [0.99, 9.4], [0.99, 10.0], [0.99, 9.0], [0.99, 9.7], [1.0, 9.5], [1.0, 9.1], [1.0, 9.8], [1.0, 9.3]]
const ins2Pink = [[0.78, 4.9], [0.84, 4.8], [0.85, 4.2], [0.85, 5.1], [0.86, 4.6], [0.87, 4.3]]
const ins2Orange = [[0.79, 4.6], [0.8, 4.3], [0.82, 4.4], [0.84, 4.1]]
const ins2Yellow = [[0.83, 5.4]]
const ins2Blue = [[0.75, 4.4], [0.76, 4.5], [0.81, 4.2]]
const ins2ZeroCrimson = [0.54, 0.55, 0.56, 0.57, 0.58, 0.59, 0.6, 0.61, 0.62, 0.63, 0.64, 0.65, 0.66, 0.67, 0.68, 0.69, 0.7]
const ins2ZeroOrange = [0.66, 0.68, 0.7, 0.72, 0.74, 0.76, 0.78, 0.8, 0.82, 0.84, 0.85, 0.86, 0.87, 0.88, 0.89]
const ins2ZeroBlue = [0.7, 0.715, 0.73, 0.745, 0.76, 0.775, 0.79, 0.805, 0.82, 0.835]
const ins2ZeroPink = [0.76, 0.8, 0.84]

type Panel = {
  title: string
  yMin: number
  yMax: number
  yTicks: number[]
  decimals: number
  curves: number[][]
  lo: number[][]
  hi: number[][]
  zeros: [string, number[]][]
  cells: [string, number[][]][]
}

const panels: Panel[] = [
  {
    title: 'Gcg', yMin: -1.81, yMax: 18.1, yTicks: [0, 5, 10, 15], decimals: 0,
    curves: [gcgBeta, gcgDelta, gcgEpsilon, gcgAlpha], lo: gcgLo, hi: gcgHi,
    zeros: [['purple', zeroPurpleEarly], ['light', zeroLightEarly], ['teal', zeroTealEarly], ['crimson', zeroCrimsonMid], ['salmon', zeroSalmonLate], ['orange', zeroOrangeMid], ['blue', zeroBlueMid]],
    cells: [['light', gcgLight], ['purple', gcgPurple], ['teal', gcgTeal], ['crimson', gcgCrimson], ['salmon', gcgSalmon], ['pink', gcgPink], ['orange', gcgOrange], ['yellow', gcgYellow], ['blue', gcgBlue]],
  },
  {
    title: 'Irx1', yMin: -0.92, yMax: 8.64, yTicks: [0, 2, 4, 6, 8], decimals: 0,
    curves: [irx1Beta, irx1Delta, irx1Epsilon, irx1Alpha], lo: irx1Lo, hi: irx1Hi,
    zeros: [['purple', zeroPurpleEarly], ['light', zeroLightEarly], ['teal', zeroTealEarly], ['crimson', zeroCrimsonMid], ['salmon', zeroSalmonLate], ['orange', irx1ZeroOrange], ['blue', zeroBlueMid]],
    cells: [['light', irx1Light], ['teal', irx1Teal], ['crimson', irx1Crimson], ['salmon', irx1Salmon], ['pink', irx1Pink], ['orange', irx1Orange], ['yellow', irx1Yellow], ['blue', irx1Blue]],
  },
  {
    title: 'Irx2', yMin: -0.76, yMax: 8.77, yTicks: [0, 2, 4, 6, 8], decimals: 0,
    curves: [irx2Beta, irx2Delta, irx2Epsilon, irx2Alpha], lo: irx2Lo, hi: irx2Hi,
    zeros: [['purple', zeroPurpleEarly], ['light', zeroLightEarly], ['teal', zeroTealEarly], ['crimson', zeroCrimsonMid], ['salmon', zeroSalmonLate], ['orange', irx1ZeroOrange], ['blue', zeroBlueMid]],
    cells: [['light', irx2Light], ['teal', irx2Teal], ['crimson', irx2Crimson], ['salmon', irx2Salmon], ['pink', irx2Pink], ['orange', irx2Orange], ['yellow', irx2Yellow]],
  },
  {
    title: 'Pdx1', yMin: -1.46, yMax: 7.73, yTicks: [0, 2, 4, 6], decimals: 0,
    curves: [pdx1Beta, pdx1Delta, pdx1Epsilon, pdx1Alpha], lo: pdx1Lo, hi: pdx1Hi,
    zeros: [['purple', zeroPurpleEarly], ['light', zeroLightEarly], ['teal', pdx1ZeroTeal], ['crimson', pdx1ZeroCrimson], ['salmon', pdx1ZeroSalmon], ['blue', pdx1ZeroBlue], ['pink', pdx1ZeroPink], ['orange', pdx1ZeroOrange]],
    cells: [['purple', pdx1Purple], ['light', pdx1Light], ['teal', pdx1Teal], ['crimson', pdx1Crimson], ['salmon', pdx1Salmon], ['pink', pdx1Pink], ['orange', pdx1Orange], ['yellow', pdx1Yellow], ['blue', pdx1Blue]],
  },
  {
    title: 'Ins2', yMin: -1.33, yMax: 11.92, yTicks: [0, 2.5, 5, 7.5, 10], decimals: 1,
    curves: [ins2Beta, ins2Delta, ins2Epsilon, ins2Alpha], lo: ins2Lo, hi: ins2Hi,
    zeros: [['purple', zeroPurpleEarly], ['light', zeroLightEarly], ['teal', zeroTealEarly], ['crimson', ins2ZeroCrimson], ['pink', ins2ZeroPink], ['orange', ins2ZeroOrange], ['blue', ins2ZeroBlue]],
    cells: [['purple', ins2Purple], ['light', ins2Light], ['teal', ins2Teal], ['crimson', ins2Crimson], ['salmon', ins2Salmon], ['pink', ins2Pink], ['orange', ins2Orange], ['yellow', ins2Yellow], ['blue', ins2Blue]],
  },
]

// canvas placement on the page
const AX_LEFT = 140
const AX_W = 376
const AX_TOP = 52
const AX_H = 389
const CW = AX_LEFT + AX_W + 145
const CH = 536
const slots = [
  { left: -31, top: 0 },
  { left: 642, top: 0 },
  { left: 1314, top: 0 },
  { left: -31, top: 543 },
  { left: 642, top: 543 },
]

function PanelChart({ panel }: { panel: Panel }) {
  const canvasRef = useRef<HTMLCanvasElement>(null)

  useEffect(() => {
    if (!canvasRef.current) return
    const fmt = (v: number) => Number(v).toFixed(panel.decimals)
    const datasets: any[] = []
    let k = 0
    const pointSet = (key: string, pts: { x: number; y: number }[]) => {
      datasets.push({
        data: pts,
        backgroundColor: cellColors[key],
        borderColor: 'rgba(0,0,0,0)',
        borderWidth: 0,
        pointRadius: 4.3,
        order: 1000 - k++,
      })
    }
    panel.zeros.forEach(([key, xs]) => pointSet(key, xs.map((x) => ({ x, y: 0 }))))
    panel.cells.forEach(([key, pts]) => pointSet(key, pts.map(([x, y]) => ({ x, y }))))

    lineages.forEach((_, i) => {
      datasets.push({
        data: bandX.map((x, j) => ({ x, y: panel.lo[i][j] })),
        showLine: true, pointRadius: 0, borderWidth: 0, borderColor: 'rgba(0,0,0,0)',
        tension: 0.4, fill: false, order: 20 - i,
      })
      datasets.push({
        data: bandX.map((x, j) => ({ x, y: panel.hi[i][j] })),
        showLine: true, pointRadius: 0, borderWidth: 0, borderColor: 'rgba(0,0,0,0)',
        backgroundColor: bandFills[i], tension: 0.4, fill: '-1', order: 20 - i,
      })
    })
    lineages.forEach((name, i) => {
      datasets.push({
        label: name,
        data: curveX.map((x, j) => ({ x, y: panel.curves[i][j] })),
        showLine: true, pointRadius: 0, borderWidth: 4, borderColor: lineageColors[i],
        tension: 0.4, fill: false, order: 4 - i, borderCapStyle: 'butt',
      })
    })

    const decorations = {
      id: 'decorations',
      afterDraw(chart: any) {
        const { ctx, chartArea: a } = chart
        ctx.save()
        ctx.strokeStyle = '#000'
        ctx.lineWidth = 1.6
        ctx.strokeRect(a.left, a.top, a.right - a.left, a.bottom - a.top)

        ctx.fillStyle = '#000'
        ctx.font = `30px ${FONT}`
        ctx.textAlign = 'center'
        ctx.textBaseline = 'alphabetic'
        const cx = (a.left + a.right) / 2
        ctx.fillText(panel.title, cx, a.top - 13)
        ctx.fillText('Pseudotime', cx, a.bottom + 74)

        let w = 0
        panel.yTicks.forEach((t) => { w = Math.max(w, ctx.measureText(fmt(t)).width) })
        ctx.save()
        ctx.translate(a.left - 15 - w - 15, (a.top + a.bottom) / 2)
        ctx.rotate(-Math.PI / 2)
        ctx.fillText('Expression', 0, 0)
        ctx.restore()

        ctx.font = `27px ${FONT}`
        ctx.textAlign = 'left'
        ctx.textBaseline = 'middle'
        const mid = (a.top + a.bottom) / 2
        lineages.forEach((name, i) => {
          const y = mid - 66.5 + 43.3 * i
          ctx.strokeStyle = lineageColors[i]
          ctx.lineWidth = 4
          ctx.beginPath()
          ctx.moveTo(a.right + 5, y)
          ctx.lineTo(a.right + 23, y)
          ctx.stroke()
          ctx.fillStyle = '#000'
          ctx.fillText(name, a.right + 35, y + 3)
        })
        ctx.restore()
      },
    }

    const tickFont = { family: FONT, size: 30 }
    const grid = { color: 'rgba(0,0,0,0.08)', lineWidth: 1.2, tickColor: '#000', tickLength: 7, tickWidth: 1.5 }

    const chart = new Chart(canvasRef.current, {
      type: 'scatter',
      data: { datasets },
      options: {
        animation: false,
        responsive: false,
        devicePixelRatio: 1,
        events: [],
        layout: { padding: { left: 0, top: AX_TOP, right: CW - AX_LEFT - AX_W, bottom: 0 } },
        plugins: { legend: { display: false }, tooltip: { enabled: false }, title: { display: false } },
        scales: {
          x: {
            type: 'linear', min: -0.05, max: 1.05,
            afterBuildTicks: (s: any) => { s.ticks = xTicks.map((v) => ({ value: v })) },
            afterFit: (s: any) => { s.height = CH - AX_TOP - AX_H },
            ticks: { font: tickFont, color: '#000', padding: 5, maxRotation: 0, autoSkip: false, callback: (v: any) => Number(v).toFixed(1) },
            grid, border: { display: false },
          },
          y: {
            type: 'linear', min: panel.yMin, max: panel.yMax,
            afterBuildTicks: (s: any) => { s.ticks = panel.yTicks.map((v) => ({ value: v })) },
            afterFit: (s: any) => { s.width = AX_LEFT },
            ticks: { font: tickFont, color: '#000', padding: 8, autoSkip: false, callback: (v: any) => fmt(v) },
            grid, border: { display: false },
          },
        },
      } as any,
      plugins: [decorations],
    })
    return () => chart.destroy()
  }, [panel])

  return <canvas ref={canvasRef} width={CW} height={CH} style={{ display: 'block', width: CW, height: CH }} />
}

export default function App() {
  return (
    <div style={{ position: 'absolute', left: 0, top: 0, width: 1977, height: 1081, background: '#fff', overflow: 'hidden' }}>
      {panels.map((p, i) => (
        <div key={p.title} style={{ position: 'absolute', left: slots[i].left, top: slots[i].top, width: CW, height: CH }}>
          <PanelChart panel={p} />
        </div>
      ))}
    </div>
  )
}
